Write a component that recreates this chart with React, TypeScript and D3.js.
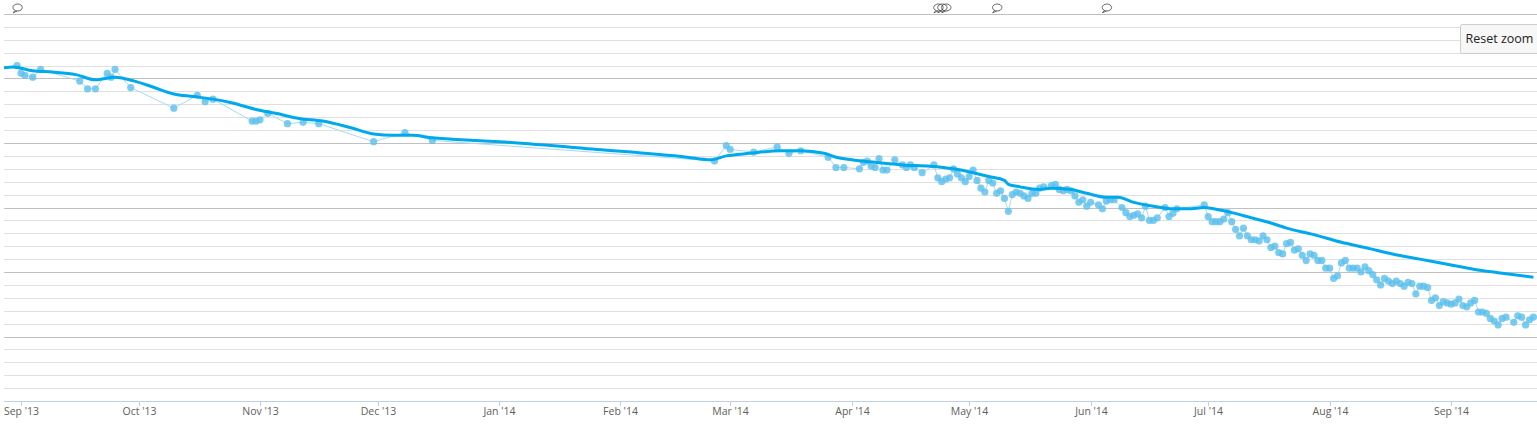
import React from "react";
import * as d3 from "d3";

// Daily measurements (date, value)
const rawDates: string[] = [
  "2013-08-31","2013-09-01","2013-09-02","2013-09-04","2013-09-06","2013-09-16","2013-09-18","2013-09-20",
  "2013-09-23","2013-09-24","2013-09-25","2013-09-29","2013-10-10","2013-10-16","2013-10-18","2013-10-20",
  "2013-10-30","2013-10-31","2013-11-01","2013-11-03","2013-11-08","2013-11-12","2013-11-16","2013-11-30",
  "2013-12-08","2013-12-15",
  "2014-02-25","2014-02-28","2014-03-01","2014-03-07","2014-03-13","2014-03-16","2014-03-19","2014-03-26",
  "2014-03-28","2014-03-30","2014-04-03","2014-04-04","2014-04-05","2014-04-06","2014-04-07","2014-04-08",
  "2014-04-09","2014-04-10","2014-04-12","2014-04-14","2014-04-15","2014-04-16","2014-04-17","2014-04-19",
  "2014-04-22","2014-04-23","2014-04-24","2014-04-25","2014-04-26","2014-04-27","2014-04-28","2014-04-29",
  "2014-04-30","2014-05-01","2014-05-02","2014-05-03","2014-05-04","2014-05-05","2014-05-06","2014-05-07",
  "2014-05-08","2014-05-09","2014-05-10","2014-05-11","2014-05-12","2014-05-13","2014-05-14","2014-05-15",
  "2014-05-16","2014-05-17","2014-05-18","2014-05-19","2014-05-20","2014-05-22","2014-05-23","2014-05-24",
  "2014-05-25","2014-05-26","2014-05-27","2014-05-28","2014-05-29","2014-05-30","2014-05-31","2014-06-01",
  "2014-06-03","2014-06-04","2014-06-05","2014-06-06","2014-06-07","2014-06-09","2014-06-10","2014-06-11",
  "2014-06-12","2014-06-13","2014-06-14","2014-06-15","2014-06-16","2014-06-17","2014-06-18","2014-06-20",
  "2014-06-21","2014-06-22","2014-06-23","2014-06-30","2014-07-01","2014-07-02","2014-07-03","2014-07-04",
  "2014-07-05","2014-07-06","2014-07-07","2014-07-08","2014-07-09","2014-07-10","2014-07-11","2014-07-12",
  "2014-07-13","2014-07-14","2014-07-15","2014-07-16","2014-07-17","2014-07-18","2014-07-19","2014-07-20",
  "2014-07-21","2014-07-22","2014-07-23","2014-07-24","2014-07-25","2014-07-26","2014-07-27","2014-07-28",
  "2014-07-29","2014-07-30","2014-07-31","2014-08-01","2014-08-02","2014-08-03","2014-08-04","2014-08-05",
  "2014-08-06","2014-08-07","2014-08-08","2014-08-09","2014-08-10","2014-08-11","2014-08-12","2014-08-13",
  "2014-08-14","2014-08-15","2014-08-16","2014-08-17","2014-08-18","2014-08-19","2014-08-20","2014-08-21",
  "2014-08-22","2014-08-23","2014-08-24","2014-08-25","2014-08-26","2014-08-27","2014-08-28","2014-08-29",
  "2014-08-30","2014-08-31","2014-09-01","2014-09-02","2014-09-03","2014-09-04","2014-09-05","2014-09-06",
  "2014-09-07","2014-09-08","2014-09-09","2014-09-10","2014-09-11","2014-09-12","2014-09-13","2014-09-14",
  "2014-09-15","2014-09-17","2014-09-18","2014-09-19","2014-09-20","2014-09-21","2014-09-22"
];
const rawValues: number[] = [
  96.0,95.4,95.25,95.1,95.7,94.8,94.2,94.2,
  95.4,95.1,95.7,94.3,92.7,93.7,93.2,93.4,
  91.7,91.7,91.8,92.3,91.5,91.6,91.5,90.1,
  90.8,90.2,
  88.6,89.8,89.5,89.3,89.7,89.2,89.4,88.9,
  88.1,88.1,88.0,88.5,88.6,88.2,88.1,88.8,
  87.9,87.9,88.7,88.3,88.1,88.3,88.1,87.7,
  88.3,87.3,87.0,87.2,87.3,88.0,87.6,87.3,
  87.0,87.4,87.9,87.1,86.5,86.2,87.1,86.9,
  86.1,86.3,85.7,84.7,86.0,86.2,86.1,85.9,
  85.7,86.1,86.1,86.5,86.6,86.7,86.8,86.4,
  86.3,86.4,86.3,85.9,85.4,85.6,85.1,85.4,
  85.2,84.9,85.5,85.6,85.6,85.0,84.6,84.3,
  84.4,84.5,84.2,85.1,84.0,84.0,84.2,85.0,
  84.3,84.55,84.9,85.2,84.3,83.9,83.9,83.9,
  84.1,84.6,83.9,83.3,82.8,83.4,82.8,82.5,
  82.5,82.4,82.8,82.5,81.9,82.0,81.5,81.4,
  82.2,82.3,81.7,81.8,81.3,80.9,81.4,81.3,
  80.9,80.9,80.3,80.3,79.5,79.7,80.7,80.9,
  80.3,80.3,80.3,80.0,80.4,80.1,79.8,79.4,
  79.0,79.5,79.3,79.1,79.3,79.1,78.9,79.2,
  79.1,78.3,78.9,78.9,78.8,77.8,78.0,77.4,
  77.7,77.6,77.5,77.6,77.9,77.4,77.3,77.6,
  77.8,76.9,76.9,76.8,76.4,76.2,75.9,76.4,
  76.5,76.1,76.6,76.5,75.9,76.3,76.5
];

// Smoothed trend (date, value)
const trendDates: string[] = [
  "2013-08-27","2013-08-30","2013-09-04","2013-09-09","2013-09-15","2013-09-20","2013-09-25","2013-09-30",
  "2013-10-05","2013-10-10","2013-10-15","2013-10-20","2013-10-25","2013-10-31","2013-11-05","2013-11-11",
  "2013-11-17","2013-11-24","2013-11-30","2013-12-05","2013-12-10","2013-12-15","2013-12-20","2014-01-01",
  "2014-01-26","2014-02-18","2014-02-24","2014-02-28","2014-03-06","2014-03-14","2014-03-19","2014-03-25",
  "2014-03-28","2014-04-01","2014-04-07","2014-04-14","2014-04-21","2014-04-27","2014-05-02","2014-05-06",
  "2014-05-10","2014-05-11","2014-05-14","2014-05-19","2014-05-22","2014-05-27","2014-05-31","2014-06-05",
  "2014-06-08","2014-06-12","2014-06-17","2014-06-22","2014-06-26","2014-06-30","2014-07-04","2014-07-07",
  "2014-07-12","2014-07-17","2014-07-21","2014-07-28","2014-08-04","2014-08-10","2014-08-17","2014-08-24",
  "2014-08-31","2014-09-07","2014-09-13","2014-09-22"
];
const trendValues: number[] = [
  95.8,95.9,95.6,95.5,95.3,94.9,95.1,94.8,
  94.3,93.8,93.6,93.4,93.1,92.6,92.3,91.9,
  91.7,91.2,90.7,90.6,90.6,90.4,90.3,90.1,
  89.5,88.9,88.7,89.0,89.2,89.4,89.4,89.2,
  88.9,88.7,88.5,88.3,88.2,88.0,87.7,87.4,
  87.1,86.8,86.6,86.4,86.5,86.4,86.1,85.8,
  85.8,85.4,85.1,84.9,84.9,85.0,84.8,84.6,
  84.2,83.8,83.4,82.9,82.3,81.9,81.4,81.0,
  80.6,80.2,79.95,79.6
];

// Event flags
const flagDates: string[] = ["2013-08-30","2014-04-22","2014-04-23","2014-04-24","2014-05-07","2014-06-04"];

const monthTicks: string[] = [
  "2013-09-01","2013-10-01","2013-11-01","2013-12-01","2014-01-01","2014-02-01","2014-03-01",
  "2014-04-01","2014-05-01","2014-06-01","2014-07-01","2014-08-01","2014-09-01"
];

const W = 1537, H = 431;
const left = 4, right = 1537, top = 14, bottom = 401;

export default function App() {
  const parse = d3.timeParse("%Y-%m-%d");
  const x = d3.scaleTime()
    .domain([new Date(2013, 7, 27, 16), new Date(2014, 8, 22, 22)])
    .range([left, right]);
  const y = d3.scaleLinear().domain([70, 100]).range([bottom, top]);
  const fmt = d3.timeFormat("%b '%y");

  const raw = rawDates.map((d, i) => ({ date: parse(d)!, v: rawValues[i] }));
  const trend = trendDates.map((d, i) => ({ date: parse(d)!, v: trendValues[i] }));

  const rawLine = d3.line<{ date: Date; v: number }>().x(d => x(d.date)).y(d => y(d.v));
  const trendLine = d3.line<{ date: Date; v: number }>()
    .x(d => x(d.date)).y(d => y(d.v)).curve(d3.curveMonotoneX);

  const gridVals = d3.range(70, 101, 1);
  const font = "'Open Sans', 'DejaVu Sans', sans-serif";

  return (
    <svg width={W} height={H} style={{ position: "absolute", left: 0, top: 0, background: "#fff" }}>
      <defs>
        <clipPath id="plot">
          <rect x={left} y={top - 4} width={right - left} height={bottom - top + 4} />
        </clipPath>
      </defs>
      {gridVals.map(g => {
        const major = g % 5 === 0;
        if (g === 70) return null;
        return (
          <line key={g} x1={left} x2={right} y1={Math.round(y(g)) + 0.5} y2={Math.round(y(g)) + 0.5}
            stroke={major ? "#c0c0c0" : "#e0e0e0"} strokeWidth={1} />
        );
      })}
      <line x1={left} x2={right} y1={bottom + 0.5} y2={bottom + 0.5} stroke="#c0d0e0" strokeWidth={1} />
      {monthTicks.map(t => {
        const d = parse(t)!;
        const px = Math.round(x(d)) + 0.5;
        return (
          <g key={t}>
            <line x1={px} x2={px} y1={bottom} y2={bottom + 5} stroke="#c0d0e0" strokeWidth={1} />
            <text x={px} y={bottom + 14} textAnchor="middle" fontFamily={font} fontSize={10.5} fill="#606060">
              {fmt(d)}
            </text>
          </g>
        );
      })}
      <g clipPath="url(#plot)">
        <path d={rawLine(raw)!} fill="none" stroke="#a8daf3" strokeWidth={1} />
        {raw.map((d, i) => (
          <circle key={i} cx={x(d.date)} cy={y(d.v)} r={3.6} fill="#5bbfec" fillOpacity={0.8} />
        ))}
        <path d={trendLine(trend)!} fill="none" stroke="#00a9ec" strokeWidth={3} strokeLinejoin="round" />
      </g>
      {flagDates.map((f, i) => {
        const px = x(parse(f)!);
        const cx = px + 4.5;
        return (
          <g key={i} fill="none" stroke="#555" strokeWidth={0.9}>
            <ellipse cx={cx} cy={7.5} rx={4.7} ry={3.5} />
            <path d={`M${cx - 2.7},10.5 L${px},12.8 L${cx - 0.5},11}`} />
          </g>
        );
      })}
      <rect x={1460.5} y={24.5} width={82} height={29} rx={2} fill="#f7f7f7" stroke="#cccccc" strokeWidth={1} />
      <text x={1465.5} y={43} fontFamily={font} fontSize={12.5} fill="#222">Reset zoom</text>
    </svg>
  );
}
